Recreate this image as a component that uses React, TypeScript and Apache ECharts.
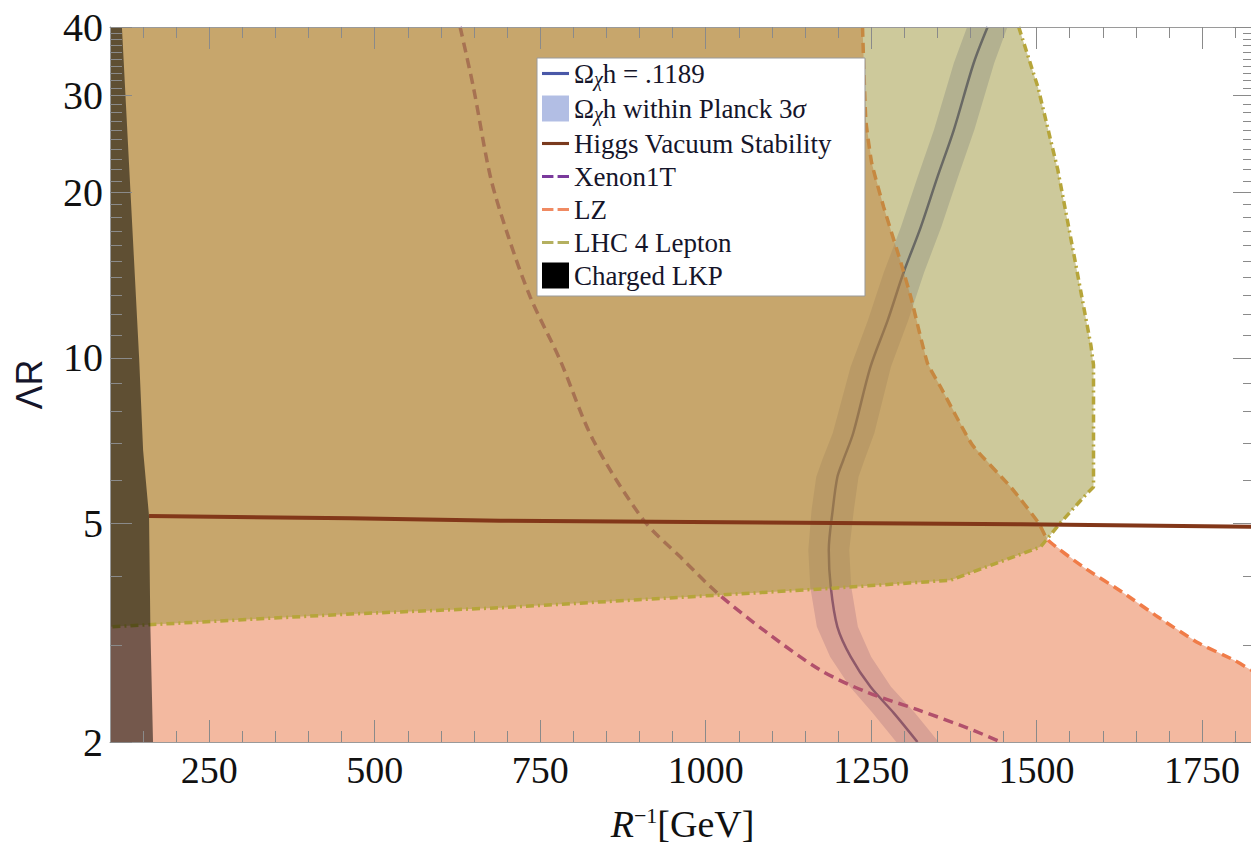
import React, { useEffect, useRef } from "react";
import * as echarts from "echarts";

// ---- axis ranges ----
const X_MIN = 100;
const X_MAX = 1830;
const LR_MIN = 2;
const LR_MAX = 40;

// ---- ticks ----
const xLabelValues = [250, 500, 750, 1000, 1250, 1500, 1750];
const xMinorValues = [150, 200, 300, 350, 400, 450, 550, 600, 650, 700, 800, 850, 900, 950, 1050, 1100, 1150, 1200, 1300, 1350, 1400, 1450, 1550, 1600, 1650, 1700, 1800];
const yLabelValues = [2, 5, 10, 20, 30, 40];
const yMinorValues = [3, 4, 6, 7, 8, 9, 11, 12, 13, 14, 15, 16, 17, 18, 19, 21, 22, 23, 24, 25, 26, 27, 28, 29, 31, 32, 33, 34, 35, 36, 37, 38, 39];

// ---- Omega_chi h = .1189 curve and Planck 3 sigma band ----
const omegaLR = [40, 34.4, 26.0, 21.3, 17.3, 14.3, 11.7, 9.63, 7.3, 6.52, 6.07, 5.29, 4.47, 3.83, 3.24, 2.86, 2.52, 2.26, 2.0];
const omegaX = [1426, 1405, 1375, 1350, 1325, 1299, 1275, 1249, 1223, 1208, 1199, 1192, 1186, 1189, 1199, 1219, 1249, 1284, 1320];
const planckLeftX = [1395, 1375, 1345, 1320, 1295, 1269, 1245, 1219, 1192, 1176, 1167, 1160, 1155, 1158, 1168, 1188, 1218, 1252, 1288];
const planckRightX = [1456, 1436, 1406, 1381, 1356, 1330, 1306, 1280, 1255, 1240, 1231, 1224, 1217, 1220, 1230, 1250, 1280, 1316, 1352];

// ---- Xenon1T ----
const xenonLR = [40, 31.1, 21.3, 16.6, 12.9, 9.91, 7.09, 5.07, 4.34, 3.73, 3.16, 2.7, 2.46, 2.29, 2.12, 2.0];
const xenonX = [629, 649, 675, 702, 735, 780, 830, 906, 962, 1018, 1093, 1174, 1245, 1320, 1396, 1446];

// ---- LZ ----
const lzLR = [40, 27.1, 22.6, 18.8, 14.9, 12.9, 9.79, 8.85, 6.94, 5.82, 5.01, 4.66, 4.16, 3.73, 3.38, 3.03, 2.82, 2.7, 2.64];
const lzX = [1237, 1242, 1251, 1269, 1295, 1310, 1335, 1355, 1403, 1461, 1503, 1517, 1571, 1632, 1683, 1744, 1798, 1825, 1845];

// ---- LHC 4 Lepton ----
const lhcLR = [40, 31.1, 22.0, 15.5, 10.55, 9.71, 5.82, 5.68, 5.01, 4.53, 3.94, 3.81, 3.7, 3.51, 3.42, 3.24];
const lhcX = [1473, 1502, 1532, 1556, 1582, 1586, 1586, 1577, 1536, 1506, 1370, 1193, 1018, 690, 463, 100];

// ---- Higgs vacuum stability ----
const higgsX = [159, 463, 690, 1476, 1845];
const higgsLR = [5.155, 5.106, 5.055, 4.979, 4.925];

// ---- Charged LKP boundary ----
const lkpLR = [40, 20, 10, 6.8, 5.15, 3.24, 2];
const lkpX = [118, 131, 144, 150, 159, 161, 165];

// ---- names ----
const N_OMEGA = "Ωχh = .1189";
const N_PLANCK = "Ωχh within Planck 3σ";
const N_HIGGS = "Higgs Vacuum Stability";
const N_XENON = "Xenon1T";
const N_LZ = "LZ";
const N_LHC = "LHC 4 Lepton";
const N_LKP = "Charged LKP";

const SERIF = "Liberation Serif";
const TEXT = "#15152a";

const lg = (v: number) => Math.log10(v);
const toPts = (xs: number[], lrs: number[]) => xs.map((x, i) => [x, lg(lrs[i])]);

function polygonSeries(name: string, points: number[][], fill: string, z: number) {
  return {
    type: "custom",
    name,
    z,
    silent: true,
    xAxisIndex: 0,
    yAxisIndex: 0,
    data: points,
    renderItem: (params: any, api: any) => {
      if (params.dataIndex !== 0) return null;
      return {
        type: "polygon",
        shape: { points: points.map((p) => api.coord(p)) },
        style: { fill },
      };
    },
  };
}

function lineSeries(name: string, points: number[][], color: string, width: number, type: any, smooth: number | boolean, z: number) {
  return {
    type: "line",
    name,
    z,
    data: points,
    xAxisIndex: 0,
    yAxisIndex: 0,
    showSymbol: false,
    symbol: "none",
    smooth,
    silent: true,
    clip: true,
    lineStyle: { color, width, type },
    itemStyle: { color },
  };
}

function buildOption(): any {
  const omegaPts = toPts(omegaX, omegaLR);
  const bandPts = [...toPts(planckLeftX, omegaLR), ...toPts(planckRightX, omegaLR).reverse()];
  const xenonPts = toPts(xenonX, xenonLR);
  const lzPts = toPts(lzX, lzLR);
  const lzFill = [[X_MIN, lg(LR_MIN)], [X_MIN, lg(LR_MAX)], ...lzPts, [lzX[lzX.length - 1], lg(LR_MIN)]];
  const lhcPts = toPts(lhcX, lhcLR);
  const lhcFill = [...lhcPts, [X_MIN, lg(LR_MAX)]];
  const higgsPts = toPts(higgsX, higgsLR);
  const lkpFill = [[X_MIN, lg(LR_MIN)], [X_MIN, lg(LR_MAX)], ...toPts(lkpX, lkpLR)];

  const axisLineStyle = { color: "#9a9a9a", width: 1 };
  const tickStyle = { color: "#8a8a8a", width: 1 };
  const xCommon = {
    type: "value",
    min: X_MIN,
    max: X_MAX,
    z: 20,
    splitLine: { show: false },
    axisLine: { show: true, onZero: false, lineStyle: axisLineStyle },
  };
  const yMin = lg(LR_MIN);
  const yMax = lg(LR_MAX);
  const yCommon = {
    type: "value",
    min: yMin,
    max: yMax,
    z: 20,
    splitLine: { show: false },
    axisLine: { show: true, onZero: false, lineStyle: axisLineStyle },
  };
  const yMajor = yLabelValues.map(lg);
  const yMinor = yMinorValues.map(lg);

  const legendFormatter = (name: string) => {
    if (name === N_OMEGA) return "{t|Ω}{sub|χ}{t|h = .1189}";
    if (name === N_PLANCK) return "{t|Ω}{sub|χ}{t|h within Planck 3}{it|σ}";
    return "{t|" + name + "}";
  };

  const solidIcon = "path://M0,0h26v3h-26z";
  const dashIcon = "path://M0,0h11v3h-11z M15,0h11v3h-11z";

  return {
    animation: false,
    backgroundColor: "#ffffff",
    grid: { left: 110, top: 27, width: 1145, height: 715, containLabel: false, outerBoundsMode: "none" },
    legend: {
      orient: "vertical",
      left: 537,
      top: 58,
      z: 30,
      backgroundColor: "#ffffff",
      borderColor: "#9a9a9a",
      borderWidth: 1,
      borderRadius: 0,
      padding: [2, 33, 7, 5],
      itemWidth: 27,
      itemHeight: 26,
      itemGap: 6,
      selectedMode: false,
      formatter: legendFormatter,
      textStyle: {
        fontFamily: SERIF,
        fontSize: 27,
        color: TEXT,
        rich: {
          t: { fontFamily: SERIF, fontSize: 27, color: TEXT },
          it: { fontFamily: SERIF, fontSize: 27, fontStyle: "italic", color: TEXT },
          sub: { fontFamily: SERIF, fontSize: 20, fontStyle: "italic", verticalAlign: "bottom", padding: [11, 0, 0, 0], color: TEXT },
        },
      },
      data: [
        { name: N_OMEGA, icon: solidIcon, itemStyle: { color: "#4a58a8" } },
        { name: N_PLANCK, icon: "rect", itemStyle: { color: "#b2bee4" } },
        { name: N_HIGGS, icon: solidIcon, itemStyle: { color: "#7a3a1e" } },
        { name: N_XENON, icon: dashIcon, itemStyle: { color: "#7a3a9c" } },
        { name: N_LZ, icon: dashIcon, itemStyle: { color: "#f08a62" } },
        { name: N_LHC, icon: dashIcon, itemStyle: { color: "#b4b060" } },
        { name: N_LKP, icon: "rect", itemStyle: { color: "#000000" } },
      ],
    },
    xAxis: [
      {
        ...xCommon,
        position: "bottom",
        axisTick: { show: true, inside: true, length: 22, customValues: xLabelValues, lineStyle: tickStyle },
        axisLabel: {
          customValues: xLabelValues,
          formatter: (v: number) => String(v),
          margin: 9,
          color: "#111",
          fontFamily: SERIF,
          fontSize: 38,
        },
        name: "{i|R}{s|−1}{n|[GeV]}",
        nameLocation: "middle",
        nameGap: 62,
        nameMoveOverlap: false,
        nameTextStyle: {
          rich: {
            i: { fontFamily: SERIF, fontStyle: "italic", fontSize: 38, lineHeight: 40, color: "#111" },
            s: { fontFamily: SERIF, fontSize: 22, lineHeight: 24, verticalAlign: "top", color: "#111" },
            n: { fontFamily: SERIF, fontSize: 38, lineHeight: 40, color: "#111" },
          },
        },
      },
      {
        ...xCommon,
        position: "bottom",
        axisLine: { show: false },
        axisTick: { show: true, inside: true, length: 11, customValues: xMinorValues, lineStyle: tickStyle },
        axisLabel: { show: false },
      },
      {
        ...xCommon,
        position: "top",
        axisTick: { show: true, inside: true, length: 22, customValues: xLabelValues, lineStyle: tickStyle },
        axisLabel: { show: false },
      },
      {
        ...xCommon,
        position: "top",
        axisLine: { show: false },
        axisTick: { show: true, inside: true, length: 11, customValues: xMinorValues, lineStyle: tickStyle },
        axisLabel: { show: false },
      },
    ],
    yAxis: [
      {
        ...yCommon,
        position: "left",
        axisTick: { show: true, inside: true, length: 22, customValues: yMajor, lineStyle: tickStyle },
        axisLabel: {
          customValues: yMajor,
          formatter: (v: number) => String(Math.round(Math.pow(10, v))),
          margin: 7,
          color: "#111",
          fontFamily: SERIF,
          fontSize: 40,
        },
        name: "ΛR",
        nameLocation: "middle",
        nameGap: 63,
        nameRotate: 90,
        nameMoveOverlap: false,
        nameTextStyle: { fontFamily: "Liberation Sans", fontSize: 36, color: "#15152a" },
      },
      {
        ...yCommon,
        position: "left",
        axisLine: { show: false },
        axisTick: { show: true, inside: true, length: 12, customValues: yMinor, lineStyle: tickStyle },
        axisLabel: { show: false },
      },
      {
        ...yCommon,
        position: "right",
        axisTick: { show: true, inside: true, length: 22, customValues: yMajor, lineStyle: tickStyle },
        axisLabel: { show: false },
      },
      {
        ...yCommon,
        position: "right",
        axisLine: { show: false },
        axisTick: { show: true, inside: true, length: 12, customValues: yMinor, lineStyle: tickStyle },
        axisLabel: { show: false },
      },
    ],
    series: [
      polygonSeries(N_PLANCK, bandPts, "rgba(150,160,210,0.5)", 1),
      lineSeries(N_OMEGA, omegaPts, "rgb(55,62,145)", 2.5, "solid", 0.3, 2),
      lineSeries(N_XENON, xenonPts, "rgb(125,45,150)", 3.5, [10, 6], 0.3, 2),
      polygonSeries("LZ region", lzFill, "rgba(231,115,65,0.5)", 3),
      lineSeries(N_LZ, lzPts, "#f07c48", 3.5, [10, 6], 0.15, 4),
      polygonSeries("LHC region", lhcFill, "rgba(155,147,55,0.5)", 5),
      lineSeries(N_LHC, lhcPts, "rgb(182,165,58)", 3.5, [8, 4, 2, 4], false, 6),
      lineSeries(N_HIGGS, higgsPts, "rgb(130,55,25)", 4, "solid", false, 7),
      polygonSeries(N_LKP, lkpFill, "rgba(0,0,0,0.52)", 8),
    ],
  };
}

export default function App() {
  const ref = useRef<HTMLDivElement>(null);
  useEffect(() => {
    if (!ref.current) return;
    const chart = echarts.init(ref.current, undefined, { renderer: "svg" });
    chart.setOption(buildOption());
    return () => chart.dispose();
  }, []);
  return (
    <div
      ref={ref}
      style={{ position: "fixed", left: 0, top: 0, width: 1251, height: 853, background: "#fff" }}
    />
  );
}
